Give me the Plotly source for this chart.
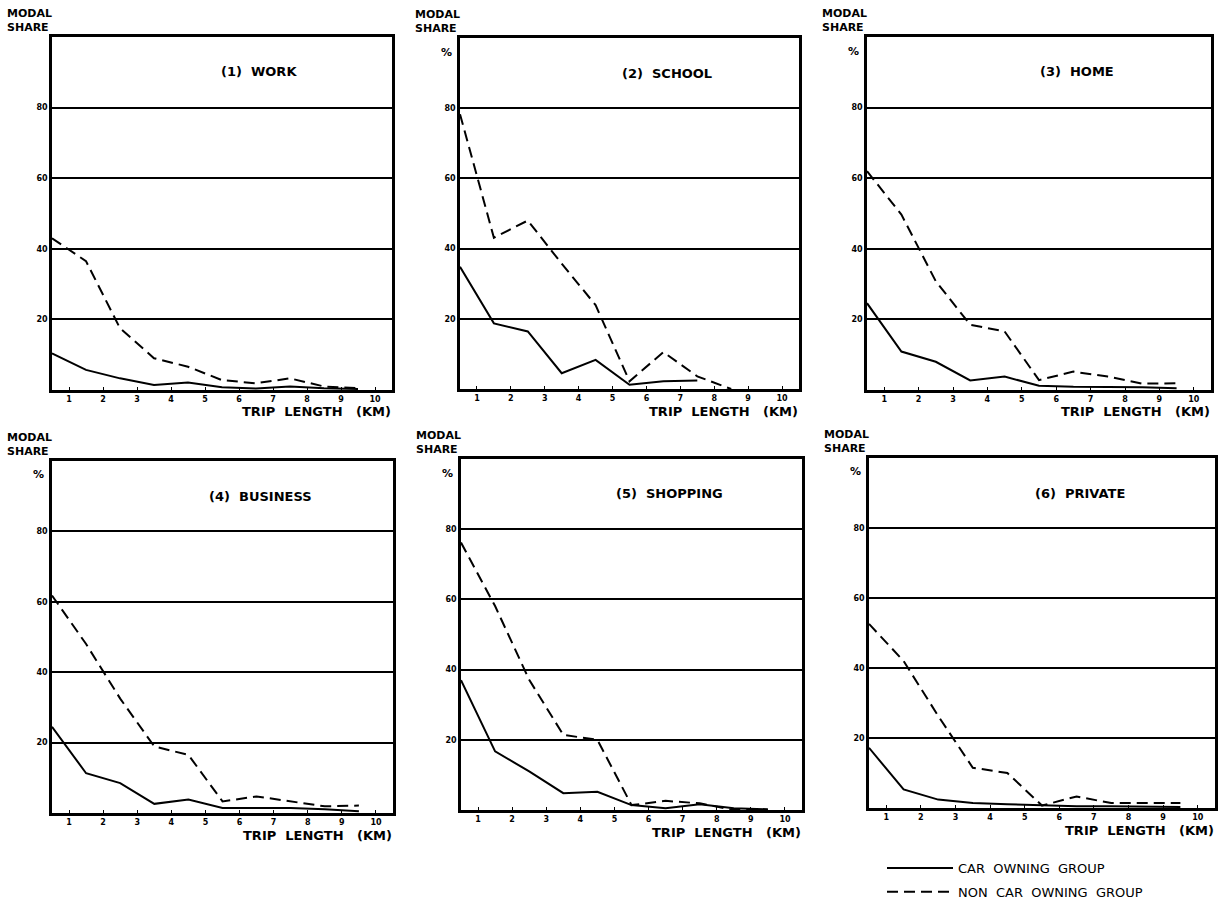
import plotly.graph_objects as go

W, H = 1218, 903

trip_km = [0.5, 1.5, 2.5, 3.5, 4.5, 5.5, 6.5, 7.5, 8.5, 9.5]
x_tick_vals = [1, 2, 3, 4, 5, 6, 7, 8, 9, 10]
y_tick_vals = [20, 40, 60, 80]

titles = ["(1)  WORK", "(2)  SCHOOL", "(3)  HOME", "(4)  BUSINESS", "(5)  SHOPPING", "(6)  PRIVATE"]

car_work = [10.4, 5.7, 3.3, 1.4, 2.1, 0.8, 0.4, 1.0, 0.5, 0.3]
noncar_work = [43.0, 36.5, 17.5, 9.0, 6.6, 2.8, 1.9, 3.3, 1.0, 0.5]

car_school = [34.8, 18.7, 16.4, 4.5, 8.3, 1.2, 2.2, 2.4, None, None]
noncar_school = [78.3, 43.1, 48.0, 35.7, 23.9, 2.2, 10.5, 3.6, 0.0, None]

car_home = [24.6, 10.9, 8.0, 2.7, 3.8, 1.2, 0.9, 0.9, 0.8, 0.5]
noncar_home = [62.0, 49.7, 30.8, 18.5, 16.6, 2.8, 5.2, 3.8, 1.8, 1.9]

car_business = [24.5, 11.3, 8.5, 2.6, 3.8, 1.4, 1.4, 1.4, 1.1, 0.5]
noncar_business = [61.8, 48.0, 32.5, 18.9, 16.5, 3.3, 4.7, 3.3, 1.9, 2.1]

car_shopping = [37.0, 16.7, 11.0, 4.8, 5.2, 1.4, 0.5, 1.6, 0.5, 0.2]
noncar_shopping = [76.2, 58.1, 37.1, 21.4, 20.0, 1.4, 2.6, 1.9, 0.0, 0.0]

car_private = [17.2, 5.3, 2.4, 1.4, 1.1, 0.8, 0.5, 0.5, 0.4, 0.3]
noncar_private = [52.6, 42.0, 26.3, 11.5, 10.0, 0.7, 3.3, 1.4, 1.4, 1.4]

car_series = [car_work, car_school, car_home, car_business, car_shopping, car_private]
noncar_series = [noncar_work, noncar_school, noncar_home, noncar_business, noncar_shopping, noncar_private]

# plot-area boxes in pixels: (left, right, top, bottom)
boxes = [
    (52, 392, 37, 390),
    (460, 799, 38, 389),
    (867, 1211, 37, 390),
    (52, 393, 461, 813),
    (461, 802, 459, 810),
    (869, 1215, 458, 808),
]
show_pct = [False, True, True, True, True, True]

FONT = "DejaVu Sans"

def px(x):
    return x / W

def py(y):
    return 1 - y / H

fig = go.Figure()
annotations = []

for i in range(6):
    l, r, t, b = boxes[i]
    xa = "x" if i == 0 else f"x{i+1}"
    ya = "y" if i == 0 else f"y{i+1}"
    xkey = "xaxis" if i == 0 else f"xaxis{i+1}"
    ykey = "yaxis" if i == 0 else f"yaxis{i+1}"
    fig.add_trace(go.Scatter(
        x=trip_km, y=car_series[i], mode="lines", xaxis=xa, yaxis=ya,
        line=dict(color="black", width=2), name="CAR  OWNING  GROUP",
        legendgroup="car", showlegend=(i == 0), legendrank=1))
    fig.add_trace(go.Scatter(
        x=trip_km, y=noncar_series[i], mode="lines", xaxis=xa, yaxis=ya,
        line=dict(color="black", width=2, dash="11px,6px"), name="NON  CAR  OWNING  GROUP",
        legendgroup="noncar", showlegend=(i == 0), legendrank=2))
    fig.layout[xkey] = dict(
        domain=[px(l), px(r)], range=[0.5, 10.5], anchor=ya,
        tickvals=x_tick_vals, ticktext=[str(v) for v in x_tick_vals],
        tickfont=dict(family=FONT, size=8, color="black", weight="bold"),
        showgrid=False, zeroline=False, showline=True, mirror=True,
        linecolor="black", linewidth=2.5, ticks="inside", ticklen=3,
        tickcolor="black", fixedrange=True)
    fig.layout[ykey] = dict(
        domain=[py(b), py(t)], range=[0, 100], anchor=xa,
        tickvals=y_tick_vals, ticktext=[str(v) for v in y_tick_vals],
        tickfont=dict(family=FONT, size=8, color="black", weight="bold"),
        showgrid=True, gridcolor="black", gridwidth=1.6, zeroline=False,
        showline=True, mirror=True, linecolor="black", linewidth=2.5,
        ticks="", fixedrange=True)
    # MODAL SHARE label
    annotations.append(dict(
        x=px(l + 2), y=py(t - 1), xref="paper", yref="paper",
        xanchor="right", yanchor="bottom", align="left", showarrow=False,
        text="MODAL<br>SHARE",
        font=dict(family=FONT, size=11, color="black", weight="bold")))
    if show_pct[i]:
        annotations.append(dict(
            x=px(l - 14), y=py(t + 14), xref="paper", yref="paper",
            xanchor="center", yanchor="middle", showarrow=False, text="%",
            font=dict(family=FONT, size=11, color="black", weight="bold")))
    # panel title
    title_cx = l + (r - l) * 0.61
    annotations.append(dict(
        x=px(title_cx), y=py(t + 35), xref="paper", yref="paper",
        xanchor="center", yanchor="middle", showarrow=False, text=titles[i],
        font=dict(family=FONT, size=13, color="black", weight="bold")))
    # x axis label
    annotations.append(dict(
        x=px(r + 1), y=py(b + 22), xref="paper", yref="paper",
        xanchor="right", yanchor="middle", showarrow=False,
        text="TRIP  LENGTH   (KM)",
        font=dict(family=FONT, size=13, color="black", weight="bold")))

fig.update_layout(
    width=W, height=H, margin=dict(l=0, r=0, t=0, b=0, autoexpand=False),
    paper_bgcolor="white", plot_bgcolor="white",
    annotations=annotations,
    showlegend=True,
    legend=dict(x=px(882), y=py(853), xanchor="left", yanchor="top",
                font=dict(family=FONT, size=13, color="black"),
                bgcolor="rgba(0,0,0,0)", tracegroupgap=4, itemwidth=66,
                traceorder="grouped"),
)

fig.write_html("out.html", config={"displayModeBar": False},
               post_script="document.body.style.margin='0';document.body.style.padding='0';document.documentElement.style.overflow='hidden';")
